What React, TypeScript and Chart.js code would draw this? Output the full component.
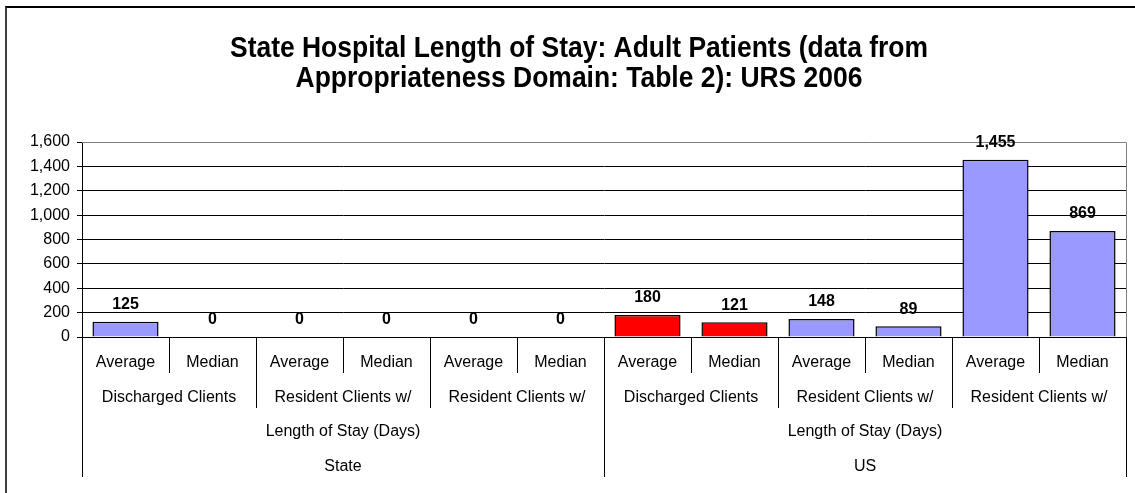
import React, { useEffect, useRef } from "react";
import { Chart, registerables } from "chart.js";

Chart.register(...registerables);

const titleLines = [
  "State Hospital Length of Stay: Adult Patients (data from",
  "Appropriateness Domain: Table 2): URS 2006",
];
const regions = ["State", "US"];
const measureLabel = "Length of Stay (Days)";
const clientGroups = ["Discharged Clients", "Resident Clients w/", "Resident Clients w/"];
const stats = ["Average", "Median"];
const stateValues = [125, 0, 0, 0, 0, 0];
const usValues = [180, 121, 148, 89, 1455, 869];
const yTicks = [0, 200, 400, 600, 800, 1000, 1200, 1400, 1600];

const BLUE = "#9999FF";
const RED = "#FF0000";
const stateColors = [BLUE, BLUE, BLUE, BLUE, BLUE, BLUE];
const usColors = [RED, RED, BLUE, BLUE, BLUE, BLUE];

const FONT = "'Liberation Sans', Arial, sans-serif";

const categories: string[] = [];
regions.forEach((r) =>
  clientGroups.forEach((g) => stats.forEach((s) => categories.push(`${r} ${g} ${s}`)))
);
const values = [...stateValues, ...usValues];
const colors = [...stateColors, ...usColors];

const framePlugin = {
  id: "frameDecor",
  afterDraw(chart: any) {
    const { ctx, chartArea, scales } = chart;
    const x = scales.x;
    const n = categories.length;
    ctx.save();

    // plot area top/right border
    ctx.strokeStyle = "#808080";
    ctx.lineWidth = 1;
    ctx.beginPath();
    ctx.moveTo(chartArea.left, Math.round(chartArea.top) + 0.5);
    ctx.lineTo(Math.round(chartArea.right) + 0.5, Math.round(chartArea.top) + 0.5);
    ctx.lineTo(Math.round(chartArea.right) + 0.5, chartArea.bottom);
    ctx.stroke();

    // title
    ctx.fillStyle = "#000";
    ctx.font = `bold 29px ${FONT}`;
    ctx.textAlign = "center";
    ctx.textBaseline = "alphabetic";
    const w1 = ctx.measureText(titleLines[0]).width;
    const sx = 698 / w1;
    const titleBaselines = [57, 86.5];
    titleLines.forEach((line, i) => {
      ctx.save();
      ctx.translate(579, titleBaselines[i]);
      ctx.scale(sx, 1);
      ctx.fillText(line, 0, 0);
      ctx.restore();
    });

    // data labels
    const meta = chart.getDatasetMeta(0);
    ctx.font = `bold 16px ${FONT}`;
    ctx.textBaseline = "middle";
    meta.data.forEach((bar: any, i: number) => {
      ctx.fillText(values[i].toLocaleString("en-US"), bar.x, bar.y - 17);
    });

    // multi-level category axis
    const bounds: number[] = [];
    for (let i = 0; i <= n; i++) {
      if (i === 0) bounds.push(chartArea.left);
      else if (i === n) bounds.push(chartArea.right);
      else bounds.push((x.getPixelForValue(i - 1) + x.getPixelForValue(i)) / 2);
    }
    const top = chartArea.bottom;
    ctx.strokeStyle = "#000";
    ctx.lineWidth = 1;
    for (let i = 0; i <= n; i++) {
      const bottom = i % 6 === 0 ? 477 : i % 2 === 0 ? 408 : 373;
      const px = Math.round(bounds[i]) + 0.5;
      ctx.beginPath();
      ctx.moveTo(px, top);
      ctx.lineTo(px, bottom);
      ctx.stroke();
    }
    ctx.font = `16px ${FONT}`;
    ctx.textBaseline = "middle";
    for (let i = 0; i < n; i++) {
      ctx.fillText(stats[i % 2], x.getPixelForValue(i), 363);
    }
    for (let g = 0; g < n / 2; g++) {
      ctx.fillText(clientGroups[g % 3], (bounds[2 * g] + bounds[2 * g + 2]) / 2, 397.5);
    }
    for (let h = 0; h < regions.length; h++) {
      const c = (bounds[6 * h] + bounds[6 * h + 6]) / 2;
      ctx.fillText(measureLabel, c, 432);
      ctx.fillText(regions[h], c, 467);
    }
    ctx.restore();
  },
};

export default function App() {
  const ref = useRef<HTMLCanvasElement>(null);
  useEffect(() => {
    if (!ref.current) return;
    const chart = new Chart(ref.current, {
      type: "bar",
      data: {
        labels: categories,
        datasets: [
          {
            data: values,
            backgroundColor: colors,
            borderColor: "#000",
            borderWidth: 1.5,
            barPercentage: 0.76,
            categoryPercentage: 1,
          },
        ],
      },
      options: {
        animation: false,
        responsive: false,
        devicePixelRatio: 1,
        layout: { padding: { left: 0, top: 142, right: 9, bottom: 156 } },
        plugins: {
          legend: { display: false },
          title: { display: false },
          tooltip: { enabled: false },
        },
        scales: {
          x: { display: false },
          y: {
            min: 0,
            max: 1600,
            afterFit: (s: any) => {
              s.width = 82;
            },
            afterBuildTicks: (s: any) => {
              s.ticks = yTicks.map((v) => ({ value: v }));
            },
            grid: { color: "#000", lineWidth: 1, tickLength: 5, drawTicks: true },
            border: { color: "#000", width: 1 },
            ticks: {
              padding: 7,
              color: "#000",
              font: { family: FONT, size: 16 },
              callback: (v: any) => Number(v).toLocaleString("en-US"),
            },
          },
        },
      },
      plugins: [framePlugin],
    });
    return () => chart.destroy();
  }, []);

  return (
    <div
      style={{
        position: "absolute",
        left: 0,
        top: 0,
        width: 1135,
        height: 493,
        overflow: "hidden",
        background: "#fff",
      }}
    >
      <canvas ref={ref} width={1135} height={493} style={{ position: "absolute", left: 0, top: 0 }} />
      <div
        style={{
          position: "absolute",
          left: 5,
          top: 6,
          width: 1200,
          height: 600,
          borderTop: "2px solid #000",
          borderLeft: "2px solid #404040",
          pointerEvents: "none",
        }}
      />
    </div>
  );
}
